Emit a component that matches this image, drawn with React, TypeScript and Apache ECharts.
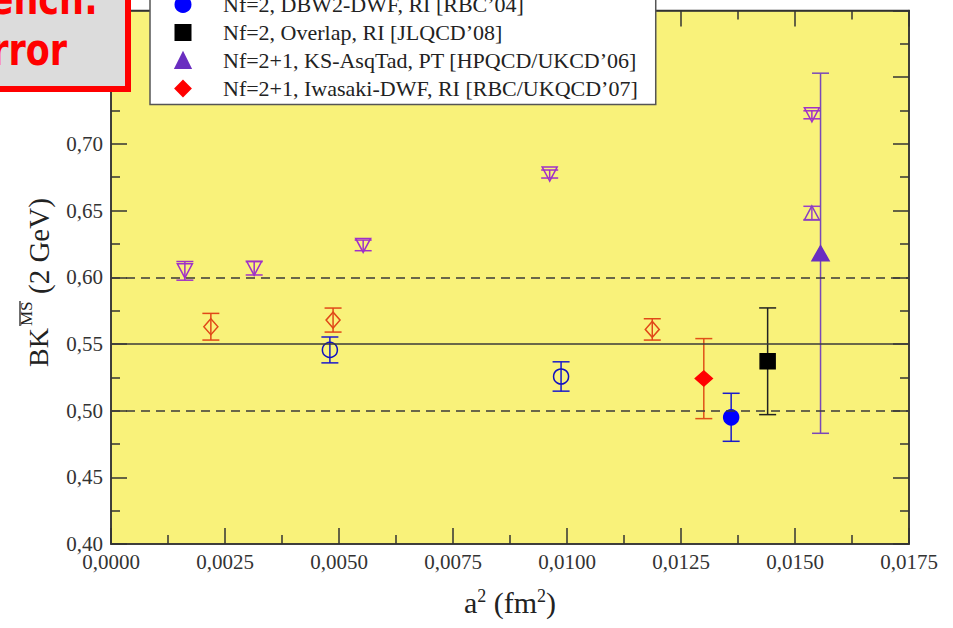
import React, { useEffect, useRef } from 'react';
import * as echarts from 'echarts';

// ---------- data ----------
const xMin = 0;
const xMax = 0.0175;
const xStep = 0.0025;
const yMin = 0.4;
const yMax = 0.8;
const yStep = 0.05;

const seriesNames = [
  'Nf=2, DBW2-DWF, RI [RBC’04]',
  'Nf=2, Overlap, RI [JLQCD’08]',
  'Nf=2+1, KS-AsqTad, PT [HPQCD/UKCD’06]',
  'Nf=2+1, Iwasaki-DWF, RI [RBC/UKQCD’07]',
];

// filled (legend) points
const dbw2X = [0.0136];
const dbw2Y = [0.495];
const dbw2Err = [0.018];

const overlapX = [0.0144];
const overlapY = [0.537];
const overlapErr = [0.040];

const asqtadX = [0.01556];
const asqtadY = [0.618];
const asqtadErr = [0.135];

const iwasakiX = [0.0130];
const iwasakiY = [0.524];
const iwasakiErr = [0.030];

// open points
const openCircX = [0.0048, 0.00987];
const openCircY = [0.5455, 0.5256];
const openCircErr = [0.0097, 0.011];

const openDiamX = [0.00219, 0.00487, 0.01187];
const openDiamY = [0.5629, 0.5679, 0.5609];
const openDiamErr = [0.010, 0.009, 0.008];

const openDownX = [0.00162, 0.00314, 0.00553, 0.00962, 0.01537];
const openDownY = [0.6048, 0.6067, 0.6239, 0.6774, 0.7218];
const openDownErr = [0.007, 0.005, 0.004, 0.003, 0.003];

const openUpX = [0.01537];
const openUpY = [0.6482];
const openUpErr = [0.005];

// reference lines
const solidLines = [0.55];
const dashedLines = [0.6, 0.5];

// ---------- helpers ----------
const pts = (xs: number[], ys: number[]) => xs.map((x, i) => [x, ys[i]]);
const bars = (xs: number[], ys: number[], es: number[]) =>
  xs.map((x, i) => [x, ys[i] - es[i], ys[i] + es[i]]);

const SERIF = '"Liberation Serif", "Times New Roman", serif';

function errorSeries(name: string, data: number[][], color: string) {
  return {
    type: 'custom',
    name,
    z: 2,
    silent: true,
    encode: { x: 0, y: [1, 2] },
    data,
    renderItem: (params: any, api: any) => {
      const x = api.value(0);
      const lo = api.value(1);
      const hi = api.value(2);
      const t = api.coord([x, hi]);
      const b = api.coord([x, lo]);
      const hw = 8.5;
      const st = { stroke: color, lineWidth: 1.5 };
      return {
        type: 'group',
        children: [
          { type: 'line', shape: { x1: t[0], y1: t[1], x2: b[0], y2: b[1] }, style: st },
          { type: 'line', shape: { x1: t[0] - hw, y1: t[1], x2: t[0] + hw, y2: t[1] }, style: st },
          { type: 'line', shape: { x1: b[0] - hw, y1: b[1], x2: b[0] + hw, y2: b[1] }, style: st },
        ],
      };
    },
  };
}

function scatter(
  name: string,
  data: number[][],
  symbol: string,
  size: number | number[],
  fill: string,
  border: string,
  rotate = 0,
) {
  return {
    type: 'scatter',
    name,
    z: 3,
    data,
    symbol,
    symbolSize: size,
    symbolRotate: rotate,
    itemStyle: { color: fill, borderColor: border, borderWidth: 1.5, opacity: 1 },
    emphasis: { disabled: true },
  };
}

const axisCommon = {
  axisLine: { show: true, onZero: false, lineStyle: { color: '#333', width: 1.5 } },
  axisTick: { show: true, inside: true, length: 16, lineStyle: { color: '#333', width: 1.5 } },
  minorTick: { show: true, splitNumber: 2, length: 9, lineStyle: { color: '#333', width: 1.5 } },
  splitLine: { show: false },
};

export default function App() {
  const ref = useRef<HTMLDivElement>(null);
  useEffect(() => {
    if (!ref.current) return;
    const chart = echarts.init(ref.current, null, { renderer: 'svg' });

    const option: any = {
      animation: false,
      backgroundColor: '#ffffff',
      grid: {
        left: 111,
        right: 44,
        top: 9,
        bottom: 84,
        show: true,
        backgroundColor: '#f9f27a',
        borderColor: '#333',
        borderWidth: 1.5,
      },
      xAxis: [
        {
          type: 'value',
          min: xMin,
          max: xMax,
          interval: xStep,
          position: 'bottom',
          ...axisCommon,
          axisLabel: {
            show: true,
            margin: 7,
            fontFamily: SERIF,
            fontSize: 21,
            color: '#333',
            formatter: (v: number) => v.toFixed(4).replace('.', ','),
          },
          name: '{a|a}{s|2}{a| (fm}{s|2}{a|)}',
          nameLocation: 'middle',
          nameGap: 43,
          nameTextStyle: {
            rich: {
              a: { fontFamily: SERIF, fontSize: 30, color: '#222' },
              s: { fontFamily: SERIF, fontSize: 18, color: '#222', verticalAlign: 'top' },
            },
          },
        },
        {
          type: 'value',
          min: xMin,
          max: xMax,
          interval: xStep,
          position: 'top',
          ...axisCommon,
          axisLabel: { show: false },
        },
      ],
      yAxis: [
        {
          type: 'value',
          min: yMin,
          max: yMax,
          interval: yStep,
          position: 'left',
          ...axisCommon,
          axisLabel: {
            show: true,
            margin: 8,
            fontFamily: SERIF,
            fontSize: 21,
            color: '#333',
            formatter: (v: number) => v.toFixed(2).replace('.', ','),
          },
        },
        {
          type: 'value',
          min: yMin,
          max: yMax,
          interval: yStep,
          position: 'right',
          ...axisCommon,
          axisLabel: { show: false },
        },
      ],
      legend: {
        orient: 'vertical',
        left: 150,
        top: -11.5,
        padding: [5, 18, 5, 24.5],
        itemWidth: 15,
        itemHeight: 15,
        itemGap: 6,
        backgroundColor: '#ffffff',
        borderColor: '#555',
        borderWidth: 1.5,
        selectedMode: false,
        textStyle: {
          fontFamily: SERIF,
          fontSize: 22,
          color: '#222',
          padding: [0, 0, 0, 27.5],
        },
        data: [
          { name: seriesNames[0], icon: 'circle' },
          { name: seriesNames[1], icon: 'rect' },
          { name: seriesNames[2], icon: 'triangle' },
          { name: seriesNames[3], icon: 'diamond' },
        ],
      },
      series: [
        {
          type: 'scatter',
          name: 'refLines',
          data: [],
          z: 1,
          markLine: {
            silent: true,
            symbol: 'none',
            label: { show: false },
            data: [
              ...solidLines.map((v) => ({ yAxis: v, lineStyle: { type: 'solid', color: '#3a3a3a', width: 1.6 } })),
              ...dashedLines.map((v) => ({ yAxis: v, lineStyle: { type: [9, 6], color: '#3a3a3a', width: 1.6 } })),
            ],
          },
        },
        errorSeries('errOpenDown', bars(openDownX, openDownY, openDownErr), '#a030c8'),
        errorSeries('errOpenUp', bars(openUpX, openUpY, openUpErr), '#9a40c8'),
        errorSeries('errOpenDiam', bars(openDiamX, openDiamY, openDiamErr), '#e04818'),
        errorSeries('errOpenCirc', bars(openCircX, openCircY, openCircErr), '#1a1acc'),
        errorSeries('errDbw2', bars(dbw2X, dbw2Y, dbw2Err), '#1a1acc'),
        errorSeries('errOverlap', bars(overlapX, overlapY, overlapErr), '#222222'),
        errorSeries('errAsqtad', bars(asqtadX, asqtadY, asqtadErr), '#7a48b8'),
        errorSeries('errIwasaki', bars(iwasakiX, iwasakiY, iwasakiErr), '#e05018'),
        scatter('openDown', pts(openDownX, openDownY), 'triangle', [15, 14], 'rgba(0,0,0,0)', '#a030c8', 180),
        scatter('openUp', pts(openUpX, openUpY), 'triangle', [15, 14], 'rgba(0,0,0,0)', '#8a40c0'),
        scatter('openDiam', pts(openDiamX, openDiamY), 'diamond', [14, 16], 'rgba(0,0,0,0)', '#e04818'),
        scatter('openCirc', pts(openCircX, openCircY), 'circle', 15, 'rgba(0,0,0,0)', '#1010c0'),
        scatter(seriesNames[0], pts(dbw2X, dbw2Y), 'circle', 15, '#0000ff', '#0000ff'),
        scatter(seriesNames[1], pts(overlapX, overlapY), 'rect', 15, '#000000', '#000000'),
        scatter(seriesNames[2], pts(asqtadX, asqtadY), 'triangle', [17, 15], '#6a2ec0', '#6a2ec0'),
        scatter(seriesNames[3], pts(iwasakiX, iwasakiY), 'diamond', [17, 15], '#ff0000', '#ff0000'),
      ],
      graphic: [
        {
          type: 'group',
          x: 48,
          y: 367,
          rotation: Math.PI / 2,
          children: [
            {
              type: 'text',
              x: 0,
              y: -9.5,
              z: 50,
              style: { text: 'BK', font: `28px ${SERIF}`, fill: '#222', align: 'left', verticalAlign: 'middle' },
            },
            {
              type: 'text',
              x: 41,
              y: -21.5,
              z: 50,
              style: { text: 'MS', font: `17px ${SERIF}`, fill: '#222', align: 'left', verticalAlign: 'middle' },
            },
            {
              type: 'line',
              z: 50,
              shape: { x1: 41, y1: -28, x2: 66, y2: -28 },
              style: { stroke: '#222', lineWidth: 1.3 },
            },
            {
              type: 'text',
              x: 73,
              y: -9.5,
              z: 50,
              style: { text: '(2 GeV)', font: `29px ${SERIF}`, fill: '#222', align: 'left', verticalAlign: 'middle' },
            },
          ],
        },
        {
          type: 'rect',
          z: 100,
          zlevel: 1,
          shape: { x: -10, y: -10, width: 138, height: 99 },
          style: { fill: '#dcdcdc', stroke: '#ff0000', lineWidth: 6 },
        },
        {
          type: 'text',
          z: 101,
          zlevel: 1,
          x: 98,
          y: -1,
          scaleY: 1.25,
          style: { text: 'Bench:', font: 'bold 35px "DejaVu Sans", sans-serif', fill: '#ff0000', align: 'right', verticalAlign: 'middle' },
        },
        {
          type: 'text',
          z: 101,
          zlevel: 1,
          x: 67,
          y: 50,
          scaleY: 1.25,
          style: { text: 'Error', font: 'bold 35px "DejaVu Sans", sans-serif', fill: '#ff0000', align: 'right', verticalAlign: 'middle' },
        },
      ],
    };

    chart.setOption(option);
    return () => chart.dispose();
  }, []);

  return (
    <div
      ref={ref}
      style={{ position: 'fixed', left: 0, top: 0, width: 953, height: 628 }}
    />
  );
}
